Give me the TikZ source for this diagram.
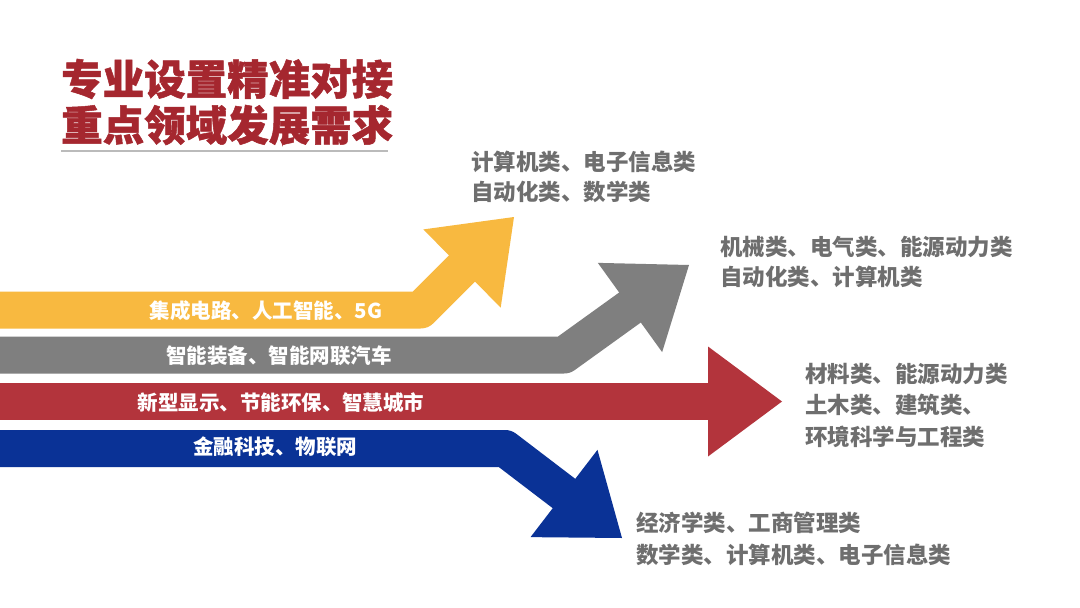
\documentclass[tikz,border=0pt]{standalone}
\usepackage{fontspec}
\setmainfont{Noto Sans CJK SC}
\usetikzlibrary{calc}
\definecolor{ayellow}{HTML}{F8B940}
\definecolor{agray}{HTML}{7F7F7F}
\definecolor{ared}{HTML}{B3343C}
\definecolor{ablue}{HTML}{0A3296}
\definecolor{infogray}{HTML}{6E6E6E}
\definecolor{titlered}{HTML}{A5272F}
\definecolor{rulegray}{HTML}{BBBBBB}
\begin{document}
\begin{tikzpicture}[x=1pt,y=-1pt,
  shaft/.style={line width=37pt, line join=round, line cap=butt},
  lbl/.style={text=white, font=\fontsize{20.5}{24}\selectfont\bfseries, inner sep=0pt},
  info/.style={text=infogray, font=\fontsize{22.5}{26}\selectfont\bfseries, anchor=west, inner sep=0pt},
  ttl/.style={text=titlered, font=\fontsize{41.5}{48}\selectfont\bfseries\addfontfeatures{FakeBold=1.2}, anchor=west, inner sep=0pt}]
\useasboundingbox (0,0) rectangle (1080,608);
\fill[white] (0,0) rectangle (1080,608);
\clip (0,0) rectangle (1080,608);

% title
\node[ttl] (t1) at (61,79) {专业设置精准对接};
\node[ttl] (t2) at (61,125) {重点领域发展需求};
\coordinate (ruleL) at (61,151);
\coordinate (ruleR) at (388,151);
\draw[rulegray, line width=1.5pt] (ruleL) -- (ruleR);

% yellow arrow
\coordinate (yS) at (-10,310);
\coordinate (yK) at (420.5,310);
\coordinate (yB) at (462,268.5);
\coordinate (yT) at (514,217);
\draw[shaft, ayellow] (yS) -- (yK) -- ($(yB)!4pt!(yT)$);
\fill[ayellow] ($(yB)!55pt!90:(yT)$) -- (yT) -- ($(yB)!55pt!-90:(yT)$) -- cycle;

% gray arrow
\coordinate (gS) at (-10,355);
\coordinate (gK) at (564,355);
\coordinate (gB) at (630,307.5);
\coordinate (gT) at (689,265);
\draw[shaft, agray] (gS) -- (gK) -- ($(gB)!4pt!(gT)$);
\fill[agray] ($(gB)!55pt!90:(gT)$) -- (gT) -- ($(gB)!55pt!-90:(gT)$) -- cycle;

% red arrow
\coordinate (rS) at (-10,401.5);
\coordinate (rB) at (708,401.5);
\coordinate (rT) at (782,401.5);
\draw[shaft, ared] (rS) -- ($(rB)!4pt!(rT)$);
\fill[ared] ($(rB)!55pt!90:(rT)$) -- (rT) -- ($(rB)!55pt!-90:(rT)$) -- cycle;

% blue arrow
\coordinate (bS) at (-10,448.5);
\coordinate (bK) at (505,448.5);
\coordinate (bB) at (564,493.5);
\coordinate (bT) at (622,538);
\draw[shaft, ablue] (bS) -- (bK) -- ($(bB)!4pt!(bT)$);
\fill[ablue] ($(bB)!55pt!90:(bT)$) -- (bT) -- ($(bB)!55pt!-90:(bT)$) -- cycle;

% arrow labels
\node[lbl] (ly) at (266,311) {集成电路、人工智能、5G};
\node[lbl] (lg) at (279,356) {智能装备、智能网联汽车};
\node[lbl] (lr) at (281,403) {新型显示、节能环保、智慧城市};
\node[lbl] (lb) at (275,447) {金融科技、物联网};

% info texts
\node[info] (i1a) at (471,161.5) {计算机类、电子信息类};
\node[info] (i1b) at (471,192) {自动化类、数学类};
\node[info] (i2a) at (720,247) {机械类、电气类、能源动力类};
\node[info] (i2b) at (720,277) {自动化类、计算机类};
\node[info] (i3a) at (805,374) {材料类、能源动力类};
\node[info] (i3b) at (805,404.5) {土木类、建筑类、};
\node[info] (i3c) at (805,437) {环境科学与工程类};
\node[info] (i4a) at (636,523) {经济学类、工商管理类};
\node[info] (i4b) at (636,555) {数学类、计算机类、电子信息类};
\end{tikzpicture}
\end{document}
